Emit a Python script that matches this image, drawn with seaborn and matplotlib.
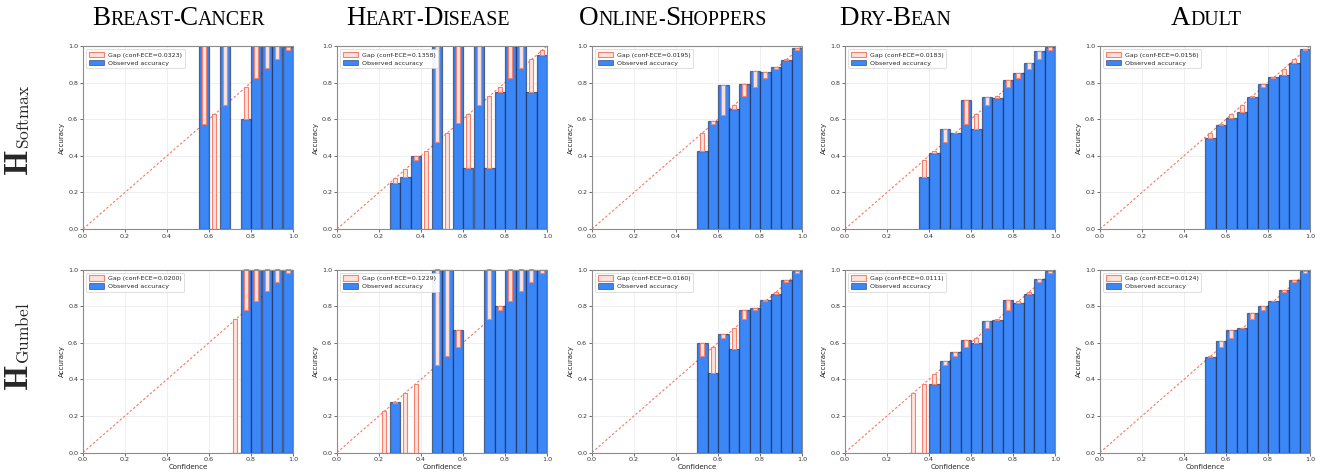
import numpy as np
import pandas as pd
import matplotlib
matplotlib.use("Agg")
import matplotlib.pyplot as plt
import seaborn as sns
from matplotlib.patches import Patch

# ---------------------------------------------------------------------------
# Data: per non-empty confidence bin (width 0.05) -> observed accuracy and
# mean confidence of the samples that fell into the bin.
# ---------------------------------------------------------------------------
datasets = ["Breast-Cancer", "Heart-Disease", "Online-Shoppers", "Dry-Bean", "Adult"]
heads = ["Softmax", "Gumbel"]

ece_softmax = [0.0323, 0.1358, 0.0195, 0.0183, 0.0156]
ece_gumbel = [0.0200, 0.1229, 0.0160, 0.0111, 0.0124]

# Breast-Cancer
bc_soft_bins = [0.575, 0.625, 0.675, 0.775, 0.825, 0.875, 0.925, 0.975]
bc_soft_acc = [1.0, 0.0, 1.0, 0.60, 1.0, 1.0, 1.0, 0.993]
bc_soft_conf = [0.575, 0.629, 0.675, 0.778, 0.827, 0.878, 0.929, 0.977]

bc_gum_bins = [0.725, 0.775, 0.825, 0.875, 0.925, 0.975]
bc_gum_acc = [0.0, 1.0, 1.0, 1.0, 1.0, 1.0]
bc_gum_conf = [0.727, 0.780, 0.830, 0.881, 0.929, 0.980]

# Heart-Disease
hd_soft_bins = [0.275, 0.325, 0.375, 0.425, 0.475, 0.525, 0.575, 0.625,
                0.675, 0.725, 0.775, 0.825, 0.875, 0.925, 0.975]
hd_soft_acc = [0.25, 0.286, 0.40, 0.0, 1.0, 0.0, 1.0, 0.333,
               1.0, 0.333, 0.75, 1.0, 1.0, 0.75, 0.953]
hd_soft_conf = [0.278, 0.327, 0.375, 0.427, 0.478, 0.524, 0.578, 0.629,
                0.678, 0.727, 0.778, 0.827, 0.878, 0.927, 0.978]

hd_gum_bins = [0.225, 0.275, 0.325, 0.375, 0.475, 0.525, 0.575,
               0.725, 0.775, 0.825, 0.875, 0.925, 0.975]
hd_gum_acc = [0.0, 0.277, 0.0, 0.0, 1.0, 1.0, 0.667,
              1.0, 0.80, 1.0, 1.0, 1.0, 1.0]
hd_gum_conf = [0.225, 0.272, 0.324, 0.377, 0.478, 0.529, 0.577,
               0.727, 0.778, 0.828, 0.881, 0.930, 0.982]

# Online-Shoppers
os_soft_bins = [0.525, 0.575, 0.625, 0.675, 0.725, 0.775, 0.825, 0.875, 0.925, 0.975]
os_soft_acc = [0.424, 0.589, 0.785, 0.655, 0.791, 0.862, 0.856, 0.887, 0.925, 0.989]
os_soft_conf = [0.527, 0.576, 0.625, 0.676, 0.727, 0.778, 0.827, 0.876, 0.929, 0.976]

os_gum_bins = [0.525, 0.575, 0.625, 0.675, 0.725, 0.775, 0.825, 0.875, 0.925, 0.975]
os_gum_acc = [0.599, 0.432, 0.650, 0.564, 0.780, 0.789, 0.835, 0.864, 0.940, 0.991]
os_gum_conf = [0.527, 0.577, 0.628, 0.678, 0.727, 0.777, 0.828, 0.877, 0.929, 0.980]

# Dry-Bean
db_soft_bins = [0.375, 0.425, 0.475, 0.525, 0.575, 0.625, 0.675,
                0.725, 0.775, 0.825, 0.875, 0.925, 0.975]
db_soft_acc = [0.285, 0.416, 0.544, 0.525, 0.704, 0.545, 0.724,
               0.715, 0.815, 0.851, 0.909, 0.973, 0.993]
db_soft_conf = [0.378, 0.425, 0.476, 0.524, 0.576, 0.629, 0.676,
                0.727, 0.778, 0.827, 0.876, 0.927, 0.976]

db_gum_bins = [0.325, 0.375, 0.425, 0.475, 0.525, 0.575, 0.625,
               0.675, 0.725, 0.775, 0.825, 0.875, 0.925, 0.975]
db_gum_acc = [0.0, 0.0, 0.374, 0.502, 0.548, 0.615, 0.597,
              0.720, 0.725, 0.835, 0.819, 0.866, 0.950, 0.993]
db_gum_conf = [0.324, 0.377, 0.427, 0.478, 0.527, 0.577, 0.628,
               0.678, 0.727, 0.778, 0.828, 0.879, 0.929, 0.980]

# Adult
ad_soft_bins = [0.525, 0.575, 0.625, 0.675, 0.725, 0.775, 0.825, 0.875, 0.925, 0.975]
ad_soft_acc = [0.496, 0.567, 0.609, 0.638, 0.722, 0.795, 0.829, 0.840, 0.907, 0.984]
ad_soft_conf = [0.527, 0.576, 0.629, 0.676, 0.727, 0.778, 0.827, 0.876, 0.929, 0.978]

ad_gum_bins = [0.525, 0.575, 0.625, 0.675, 0.725, 0.775, 0.825, 0.875, 0.925, 0.975]
ad_gum_acc = [0.520, 0.610, 0.667, 0.681, 0.764, 0.800, 0.828, 0.886, 0.945, 0.993]
ad_gum_conf = [0.527, 0.577, 0.628, 0.678, 0.727, 0.778, 0.826, 0.877, 0.929, 0.980]

panels = {
    ("Softmax", "Breast-Cancer"): (bc_soft_bins, bc_soft_acc, bc_soft_conf),
    ("Softmax", "Heart-Disease"): (hd_soft_bins, hd_soft_acc, hd_soft_conf),
    ("Softmax", "Online-Shoppers"): (os_soft_bins, os_soft_acc, os_soft_conf),
    ("Softmax", "Dry-Bean"): (db_soft_bins, db_soft_acc, db_soft_conf),
    ("Softmax", "Adult"): (ad_soft_bins, ad_soft_acc, ad_soft_conf),
    ("Gumbel", "Breast-Cancer"): (bc_gum_bins, bc_gum_acc, bc_gum_conf),
    ("Gumbel", "Heart-Disease"): (hd_gum_bins, hd_gum_acc, hd_gum_conf),
    ("Gumbel", "Online-Shoppers"): (os_gum_bins, os_gum_acc, os_gum_conf),
    ("Gumbel", "Dry-Bean"): (db_gum_bins, db_gum_acc, db_gum_conf),
    ("Gumbel", "Adult"): (ad_gum_bins, ad_gum_acc, ad_gum_conf),
}
ece = {"Softmax": ece_softmax, "Gumbel": ece_gumbel}

# ---------------------------------------------------------------------------
# Style
# ---------------------------------------------------------------------------
sns.set_theme(style="whitegrid")
plt.rcParams.update({
    "font.family": ["DejaVu Sans"],
    "mathtext.fontset": "cm",
    "axes.edgecolor": "#8c8c8c",
    "axes.linewidth": 0.8,
    "grid.color": "#ececec",
    "grid.linewidth": 0.6,
    "xtick.bottom": True,
    "ytick.left": True,
    "xtick.major.size": 2,
    "ytick.major.size": 2,
    "xtick.major.width": 0.6,
    "ytick.major.width": 0.6,
    "xtick.color": "#555555",
    "ytick.color": "#555555",
    "xtick.labelcolor": "#333333",
    "ytick.labelcolor": "#333333",
    "xtick.major.pad": 1.5,
    "ytick.major.pad": 1.5,
})

ACC_BLUE = "#3b87f7"
BAR_EDGE = (0.05, 0.08, 0.2, 0.55)
GAP_EDGE = "#f4826f"
GAP_FILL = "#fde3dd"
DIAG = "#f47866"

W, H = 1328, 473
fig = plt.figure(figsize=(W / 100, H / 100), dpi=100)

col_left = [83, 337, 592, 845, 1100]
row_top = [46, 269.5]
ax_w, ax_h = 210, 183

tick_fs = 4.6
label_fs = 5.0
legend_fs = 4.5

for r, head in enumerate(heads):
    for c, name in enumerate(datasets):
        ax = fig.add_axes([col_left[c] / W, 1 - (row_top[r] + ax_h) / H, ax_w / W, ax_h / H])
        bins, acc, conf = panels[(head, name)]
        df = pd.DataFrame({"bin": bins, "acc": acc, "conf": conf})
        df["gap_lo"] = np.minimum(df["acc"], df["conf"])
        df["gap"] = np.abs(df["acc"] - df["conf"])

        # perfect-calibration diagonal
        sns.lineplot(x=[0.0, 1.0], y=[0.0, 1.0], ax=ax, color=DIAG, lw=0.8,
                     linestyle=(0, (2.2, 1.8)), zorder=1)

        # observed accuracy per bin
        sns.barplot(data=df, x="bin", y="acc", native_scale=True, width=1.0,
                    color=ACC_BLUE, saturation=1, errorbar=None,
                    edgecolor=BAR_EDGE, linewidth=0.9, ax=ax, zorder=2)

        # gap between accuracy and confidence
        ax.bar(df["bin"], df["gap"], bottom=df["gap_lo"], width=0.02,
               color=GAP_FILL, edgecolor=GAP_EDGE, linewidth=0.8, zorder=3)

        ax.set_xlim(0, 1)
        ax.set_ylim(0, 1)
        ticks = np.arange(0, 1.01, 0.2)
        ax.set_xticks(ticks)
        ax.set_yticks(ticks)
        ax.set_xticklabels([f"{v:.1f}" for v in ticks], fontsize=tick_fs)
        ax.set_yticklabels([f"{v:.1f}" for v in ticks], fontsize=tick_fs)
        ax.set_ylabel("Accuracy", fontsize=label_fs, labelpad=2)
        ax.set_xlabel("Confidence" if r == 1 else "", fontsize=label_fs, labelpad=1)
        ax.set_axisbelow(True)
        for s in ax.spines.values():
            s.set_zorder(5)

        handles = [
            Patch(facecolor=GAP_FILL, edgecolor=GAP_EDGE, linewidth=0.8,
                  label=f"Gap (conf-ECE={ece[head][c]:.4f})"),
            Patch(facecolor=ACC_BLUE, edgecolor=BAR_EDGE, linewidth=0.6,
                  label="Observed accuracy"),
        ]
        leg = ax.legend(handles=handles, loc="upper left", fontsize=legend_fs,
                        frameon=True, fancybox=True, framealpha=0.92,
                        edgecolor="#d0d0d0", borderpad=0.45, labelspacing=0.35,
                        handlelength=2.4, handleheight=0.9, handletextpad=0.6,
                        borderaxespad=0.5)
        leg.get_frame().set_linewidth(0.5)
        leg.set_zorder(20)


renderer = fig.canvas.get_renderer()

# ---------------------------------------------------------------------------
# Column titles in small capitals
# ---------------------------------------------------------------------------
title_centers = [178.5, 428, 673, 895.5, 1206.5]
big_fs, small_fs = 19.5, 14.3
serif = "Liberation Serif"


def small_caps(text, xc_px, base_px):
    pieces = []
    words = text.split("-")
    for i, w in enumerate(words):
        pieces.append((w[0].upper(), big_fs))
        pieces.append((w[1:].upper(), small_fs))
        if i < len(words) - 1:
            pieces.append(("-", small_fs))
    objs = []
    total = 0.0
    for s, fs in pieces:
        t = fig.text(0, 0, s, fontsize=fs, family=serif, va="baseline",
                     ha="left", color="black")
        wpx = t.get_window_extent(renderer).width
        objs.append((t, wpx))
        total += wpx
    x = xc_px - total / 2
    for t, wpx in objs:
        t.set_position((x / W, 1 - base_px / H))
        x += wpx


for c, name in enumerate(datasets):
    small_caps(name, title_centers[c], 25)

# ---------------------------------------------------------------------------
# Row labels: bold H with the head name as subscript, read bottom-to-top
# ---------------------------------------------------------------------------
row_centers = [130, 346.5]
base_x = 27.5
for r, head in enumerate(heads):
    h = fig.text(0, 0, r"$\mathbf{H}$", fontsize=23.5, rotation=90,
                 rotation_mode="anchor", ha="left", va="baseline")
    sub = fig.text(0, 0, r"$\mathrm{" + head + "}$", fontsize=12.5, rotation=90,
                   rotation_mode="anchor", ha="left", va="baseline")
    h_len = h.get_window_extent(renderer).height
    s_len = sub.get_window_extent(renderer).height
    total = h_len + s_len + 1
    y0 = row_centers[r] + total / 2          # bottom of the label in pixels from top
    h.set_position((base_x / W, 1 - y0 / H))
    sub.set_position(((base_x + 1.5) / W, 1 - (y0 - h_len - 1) / H))

fig.savefig("out.png", dpi=100)
